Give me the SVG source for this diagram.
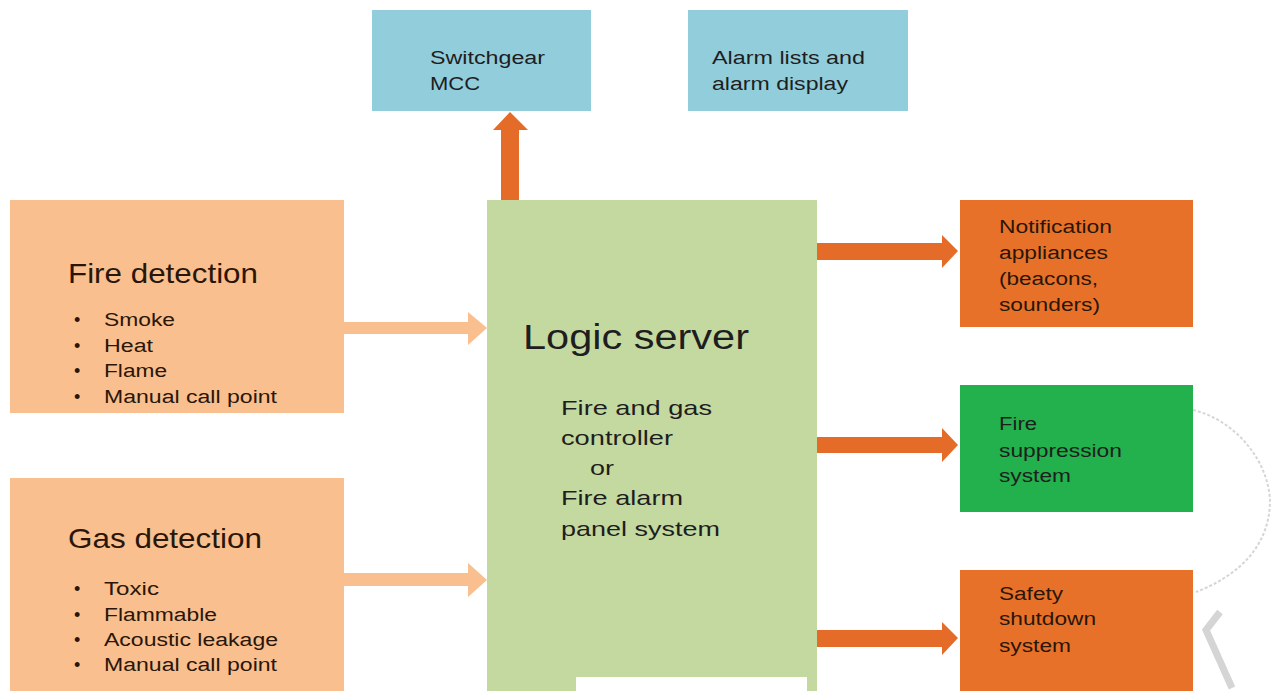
<svg xmlns="http://www.w3.org/2000/svg" width="1275" height="691" viewBox="0 0 1275 691">
<style>
text{font-family:"Liberation Sans",Arial,sans-serif;fill:#1e1e1e}
.h{font-size:28px}
.b{font-size:18px}
.s{font-size:18px}
.ls{font-size:35px}
.sub{font-size:21px}
.dk{fill:#2a1608}
</style>
<rect width="1275" height="691" fill="#ffffff"/>
<g id="watermark" fill="none" stroke="#c4c4c4" opacity="0.7">
<path d="M1193 410 C1235 420 1268 460 1270 500 C1270 545 1240 575 1196 592" stroke-width="2" stroke-dasharray="3 2"/>
<path d="M1220 612 L1206 630 L1232 688" stroke-width="7"/>
</g>
<g id="connectors">
<polygon fill="#e46c28" points="501,200 501,130 493,130 510,112 528,130 519,130 519,200"/>
<polygon fill="#f9bf8f" points="344,322 468,322 468,312 487,328 468,345 468,334 344,334"/>
<polygon fill="#f9bf8f" points="344,573 468,573 468,563 487,580 468,597 468,586 344,586"/>
<polygon fill="#e46c28" points="817,243 942,243 942,235 958,251 942,268 942,260 817,260"/>
<polygon fill="#e46c28" points="817,437 942,437 942,428 958,445 942,462 942,453 817,453"/>
<polygon fill="#e46c28" points="817,630 942,630 942,622 958,638 942,655 942,647 817,647"/>
</g>
<g id="switchgear">
<rect x="372" y="10" width="219" height="101" fill="#92cddc"/>
<text class="s" x="430" y="64" textLength="115" lengthAdjust="spacingAndGlyphs">Switchgear</text>
<text class="s" x="430" y="90" textLength="50" lengthAdjust="spacingAndGlyphs">MCC</text>
</g>
<g id="alarm">
<rect x="688" y="10" width="220" height="101" fill="#92cddc"/>
<text class="s" x="712" y="64" textLength="153" lengthAdjust="spacingAndGlyphs">Alarm lists and</text>
<text class="s" x="712" y="90" textLength="136" lengthAdjust="spacingAndGlyphs">alarm display</text>
</g>
<g id="fire-detection">
<rect x="10" y="200" width="334" height="213" fill="#f9bf8f"/>
<text class="h dk" x="68" y="283" textLength="190" lengthAdjust="spacingAndGlyphs">Fire detection</text>
<text class="b dk" x="74" y="326">•</text><text class="b dk" x="104" y="326" textLength="71" lengthAdjust="spacingAndGlyphs">Smoke</text>
<text class="b dk" x="74" y="352">•</text><text class="b dk" x="104" y="352" textLength="49" lengthAdjust="spacingAndGlyphs">Heat</text>
<text class="b dk" x="74" y="377">•</text><text class="b dk" x="104" y="377" textLength="63" lengthAdjust="spacingAndGlyphs">Flame</text>
<text class="b dk" x="74" y="403">•</text><text class="b dk" x="104" y="403" textLength="173" lengthAdjust="spacingAndGlyphs">Manual call point</text>
</g>
<g id="gas-detection">
<rect x="10" y="478" width="334" height="213" fill="#f9bf8f"/>
<text class="h dk" x="68" y="548" textLength="194" lengthAdjust="spacingAndGlyphs">Gas detection</text>
<text class="b dk" x="74" y="595">•</text><text class="b dk" x="104" y="595" textLength="55" lengthAdjust="spacingAndGlyphs">Toxic</text>
<text class="b dk" x="74" y="621">•</text><text class="b dk" x="104" y="621" textLength="113" lengthAdjust="spacingAndGlyphs">Flammable</text>
<text class="b dk" x="74" y="646">•</text><text class="b dk" x="104" y="646" textLength="174" lengthAdjust="spacingAndGlyphs">Acoustic leakage</text>
<text class="b dk" x="74" y="671">•</text><text class="b dk" x="104" y="671" textLength="173" lengthAdjust="spacingAndGlyphs">Manual call point</text>
</g>
<g id="logic-server">
<rect x="487" y="200" width="330" height="491" fill="#c4d9a0"/>
<text class="ls" x="523" y="349" textLength="226" lengthAdjust="spacingAndGlyphs">Logic server</text>
<text class="sub" x="561" y="415" textLength="151" lengthAdjust="spacingAndGlyphs">Fire and gas</text>
<text class="sub" x="561" y="445" textLength="112" lengthAdjust="spacingAndGlyphs">controller</text>
<text class="sub" x="590" y="475" textLength="24" lengthAdjust="spacingAndGlyphs">or</text>
<text class="sub" x="561" y="505" textLength="122" lengthAdjust="spacingAndGlyphs">Fire alarm</text>
<text class="sub" x="561" y="536" textLength="159" lengthAdjust="spacingAndGlyphs">panel system</text>
<rect x="576" y="677" width="231" height="14" fill="#ffffff"/>
</g>
<g id="notification">
<rect x="960" y="200" width="233" height="127" fill="#e8712a"/>
<text class="s dk" x="999" y="233" textLength="113" lengthAdjust="spacingAndGlyphs">Notification</text>
<text class="s dk" x="999" y="259" textLength="109" lengthAdjust="spacingAndGlyphs">appliances</text>
<text class="s dk" x="999" y="285" textLength="99" lengthAdjust="spacingAndGlyphs">(beacons,</text>
<text class="s dk" x="999" y="311" textLength="101" lengthAdjust="spacingAndGlyphs">sounders)</text>
</g>
<g id="fire-suppression">
<rect x="960" y="385" width="233" height="127" fill="#22b14c"/>
<text class="s" x="999" y="430" textLength="38" lengthAdjust="spacingAndGlyphs">Fire</text>
<text class="s" x="999" y="457" textLength="123" lengthAdjust="spacingAndGlyphs">suppression</text>
<text class="s" x="999" y="482" textLength="72" lengthAdjust="spacingAndGlyphs">system</text>
</g>
<g id="safety-shutdown">
<rect x="960" y="570" width="233" height="121" fill="#e8712a"/>
<text class="s dk" x="999" y="600" textLength="64" lengthAdjust="spacingAndGlyphs">Safety</text>
<text class="s dk" x="999" y="625" textLength="97" lengthAdjust="spacingAndGlyphs">shutdown</text>
<text class="s dk" x="999" y="652" textLength="72" lengthAdjust="spacingAndGlyphs">system</text>
</g>
</svg>
